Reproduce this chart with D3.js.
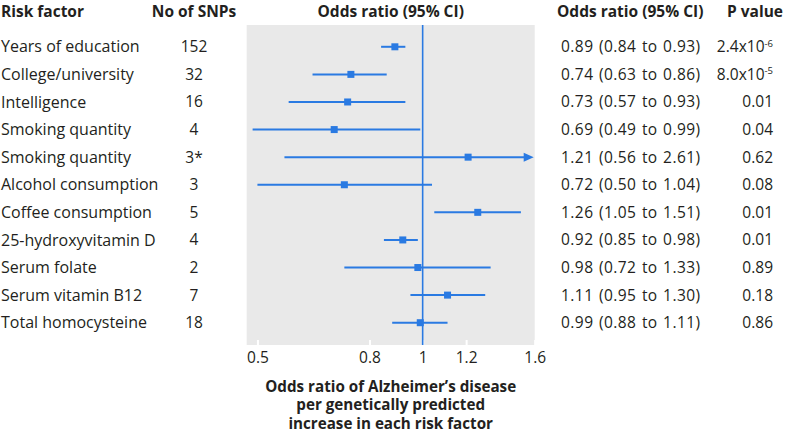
<!DOCTYPE html>
<html>
<head>
<meta charset="utf-8">
<script src="https://cdn.jsdelivr.net/npm/d3@7"></script>
<style>
  body { margin: 0; background: #fff; }
  svg text { font-family: "Open Sans", "Noto Sans", sans-serif; fill: #231f20; }
</style>
</head>
<body>
<svg id="chart" width="790" height="437"></svg>
<script>
// dati
const factors = ["Years of education", "College/university", "Intelligence", "Smoking quantity",
  "Smoking quantity", "Alcohol consumption", "Coffee consumption", "25-hydroxyvitamin D",
  "Serum folate", "Serum vitamin B12", "Total homocysteine"];
const snps = ["152", "32", "16", "4", "3*", "3", "5", "4", "2", "7", "18"];
const oddsRatio = [0.89, 0.74, 0.73, 0.69, 1.21, 0.72, 1.26, 0.92, 0.98, 1.11, 0.99];
const ciLow = [0.84, 0.63, 0.57, 0.49, 0.56, 0.50, 1.05, 0.85, 0.72, 0.95, 0.88];
const ciHigh = [0.93, 0.86, 0.93, 0.99, 2.61, 1.04, 1.51, 0.98, 1.33, 1.30, 1.11];
const pValues = ["2.4x10^-6", "8.0x10^-5", "0.01", "0.04", "0.62", "0.08", "0.01", "0.01", "0.89", "0.18", "0.86"];
const tickValues = [0.5, 0.8, 1, 1.2, 1.6];
const axisTitle = ["Odds ratio of Alzheimer\u2019s disease", "per genetically predicted", "increase in each risk factor"];

const BLUE = "#2a7ae2";
const FS = 15.5;

const svg = d3.select("#chart");

const x = d3.scaleLog().domain([0.478, 1.6]).range([246.7, 534.7]);
const panelTop = 25, panelBottom = 345;
const y = d3.scaleBand().domain(d3.range(factors.length)).range([33, 336.5]);
const yc = i => y(i) + y.bandwidth() / 2;
const midX = (x.range()[0] + x.range()[1]) / 2;

// pannello grigio
svg.append("rect")
  .attr("x", x.range()[0]).attr("y", panelTop)
  .attr("width", x.range()[1] - x.range()[0])
  .attr("height", panelBottom - panelTop)
  .attr("fill", "#e9e9e9");

// asse con tacche bianche verso l'alto
const axis = svg.append("g")
  .attr("transform", `translate(0,${panelBottom})`)
  .call(d3.axisBottom(x).tickValues(tickValues).tickFormat(d3.format("")).tickSizeInner(-5).tickSizeOuter(0).tickPadding(7));
axis.select(".domain").remove();
axis.selectAll(".tick line").attr("stroke", "#fff").attr("stroke-width", 2);
axis.selectAll(".tick text").attr("font-size", FS).attr("font-family", null).attr("fill", "#231f20");

// linea di riferimento a 1
svg.append("line")
  .attr("x1", x(1)).attr("x2", x(1))
  .attr("y1", panelTop).attr("y2", panelBottom)
  .attr("stroke", BLUE).attr("stroke-width", 1.6);

// intervalli di confidenza
const maxX = x.domain()[1];
const rows = svg.append("g").selectAll("g").data(d3.range(factors.length)).join("g");

rows.append("line")
  .attr("x1", i => x(ciLow[i]))
  .attr("x2", i => ciHigh[i] > maxX ? x(maxX) - 8 : x(ciHigh[i]))
  .attr("y1", yc).attr("y2", yc)
  .attr("stroke", BLUE).attr("stroke-width", 2);

// freccia quando il CI esce dal grafico
rows.filter(i => ciHigh[i] > maxX).append("path")
  .attr("d", i => {
    const tip = x(maxX) - 1, c = yc(i);
    return `M${tip},${c} L${tip - 10},${c - 4.5} L${tip - 10},${c + 4.5} Z`;
  })
  .attr("fill", BLUE);

rows.append("rect")
  .attr("x", i => x(oddsRatio[i]) - 3.5)
  .attr("y", i => yc(i) - 3.5)
  .attr("width", 7).attr("height", 7)
  .attr("fill", BLUE);

// intestazioni
const header = svg.append("g").attr("font-weight", "bold").attr("font-size", FS);
header.append("text").attr("x", 1).attr("y", 16.5).text("Risk factor");
header.append("text").attr("x", 194).attr("y", 16.5).attr("text-anchor", "middle").text("No of SNPs");
header.append("text").attr("x", midX).attr("y", 16.5).attr("text-anchor", "middle").text("Odds ratio (95% CI)");
header.append("text").attr("x", 557).attr("y", 16.5).text("Odds ratio (95% CI)");
header.append("text").attr("x", 783).attr("y", 16.5).attr("text-anchor", "end").text("P value");

// colonne di testo
const fmt = d3.format(".2f");
rows.append("text")
  .attr("x", 1).attr("y", yc).attr("dy", "0.35em")
  .attr("font-size", 16)
  .text(i => factors[i]);

rows.append("text")
  .attr("x", 194).attr("y", yc).attr("dy", "0.35em")
  .attr("text-anchor", "middle").attr("font-size", FS)
  .text(i => snps[i]);

rows.append("text")
  .attr("x", 561).attr("y", yc).attr("dy", "0.35em")
  .attr("font-size", FS)
  .attr("letter-spacing", 0.45).attr("word-spacing", 1)
  .text(i => `${fmt(oddsRatio[i])} (${fmt(ciLow[i])} to ${fmt(ciHigh[i])})`);

rows.append("text")
  .attr("x", 773).attr("y", yc).attr("dy", "0.35em")
  .attr("text-anchor", "end").attr("font-size", FS)
  .each(function (i) {
    const parts = pValues[i].split("^");
    const t = d3.select(this);
    t.append("tspan").text(parts[0]);
    if (parts[1]) {
      t.append("tspan").attr("font-size", 9.5).attr("dy", "-0.6em").text(parts[1]);
    }
  });

// titolo asse
svg.append("text")
  .attr("font-weight", "bold").attr("font-size", 15.2)
  .attr("text-anchor", "middle")
  .selectAll("tspan").data(axisTitle).join("tspan")
  .attr("x", midX)
  .attr("y", (d, i) => 391.5 + i * 18.5)
  .text(d => d);
</script>
</body>
</html>
